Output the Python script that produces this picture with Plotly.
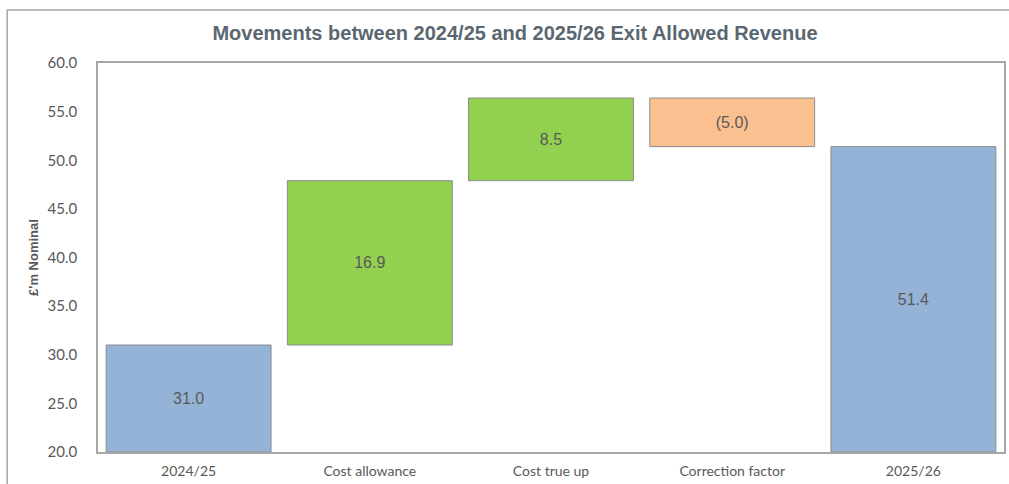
import plotly.graph_objects as go

categories = ["2024/25", "Cost allowance", "Cost true up", "Correction factor", "2025/26"]
values = [31.0, 16.9, 8.5, -5.0, 51.4]
measures = ["total", "relative", "relative", "relative", "total"]
y_ticks = [20.0, 25.0, 30.0, 35.0, 40.0, 45.0, 50.0, 55.0, 60.0]

AXIS_MIN, AXIS_MAX = 20, 60
BLUE, GREEN, ORANGE = "#95B3D7", "#92D050", "#FAC090"

# compute floating bar bases from the running total
bases, heights, colors, texts = [], [], [], []
running = 0.0
for v, m in zip(values, measures):
    if m == "total":
        lo, hi = AXIS_MIN, v
        running = v
        colors.append(BLUE)
    else:
        lo, hi = (running, running + v) if v >= 0 else (running + v, running)
        running += v
        colors.append(GREEN if v >= 0 else ORANGE)
    bases.append(lo)
    heights.append(hi - lo)
    texts.append(f"({abs(v):.1f})" if v < 0 else f"{v:.1f}")

fig = go.Figure(go.Bar(
    x=categories, y=heights, base=bases,
    marker=dict(color=colors, line=dict(color="#8C8C8C", width=1)),
    text=texts, textposition="inside", insidetextanchor="middle",
    textfont=dict(family="Liberation Sans, Arial", size=16, color="#595959"),
    textangle=0, hoverinfo="skip",
))

fig.update_layout(
    width=1009, height=484,
    margin=dict(l=98, r=3, t=63, b=32),
    paper_bgcolor="white", plot_bgcolor="white",
    bargap=0.09, showlegend=False,
    title=dict(text="<b>Movements between 2024/25 and 2025/26 Exit Allowed Revenue</b>",
               x=515/1009, xref="container", xanchor="center",
               y=1-33/484, yref="container", yanchor="middle",
               font=dict(family="Liberation Sans, Arial", size=20, color="#5A6770")),
    font=dict(family="Lato, Open Sans", color="#595959"),
)

fig.update_yaxes(
    range=[AXIS_MIN, AXIS_MAX], tickvals=y_ticks, ticktext=[f"{t:.1f}" for t in y_ticks],
    showgrid=False, zeroline=False, showline=True, mirror=True,
    linecolor="#A6A6A6", linewidth=1.5, ticks="", ticklabelstandoff=16,
    tickfont=dict(family="Lato", size=15, color="#595959"),
    title=dict(text="<b>£'m Nominal</b>", standoff=6,
               font=dict(family="Liberation Sans, Arial", size=13, color="#595959")),
)
fig.update_xaxes(
    showgrid=False, showline=True, mirror=True, linecolor="#A6A6A6", linewidth=1.5,
    ticks="", ticklabelstandoff=5, tickfont=dict(family="Lato", size=14, color="#595959"),
)

# outer chart-area border
fig.add_shape(type="rect", xref="paper", yref="paper",
              x0=(7-98)/908, x1=1.05, y0=-0.3, y1=(452-10)/389,
              line=dict(color="#A6A6A6", width=1.5), fillcolor="rgba(0,0,0,0)", layer="below")

fig.write_html("out.html")
